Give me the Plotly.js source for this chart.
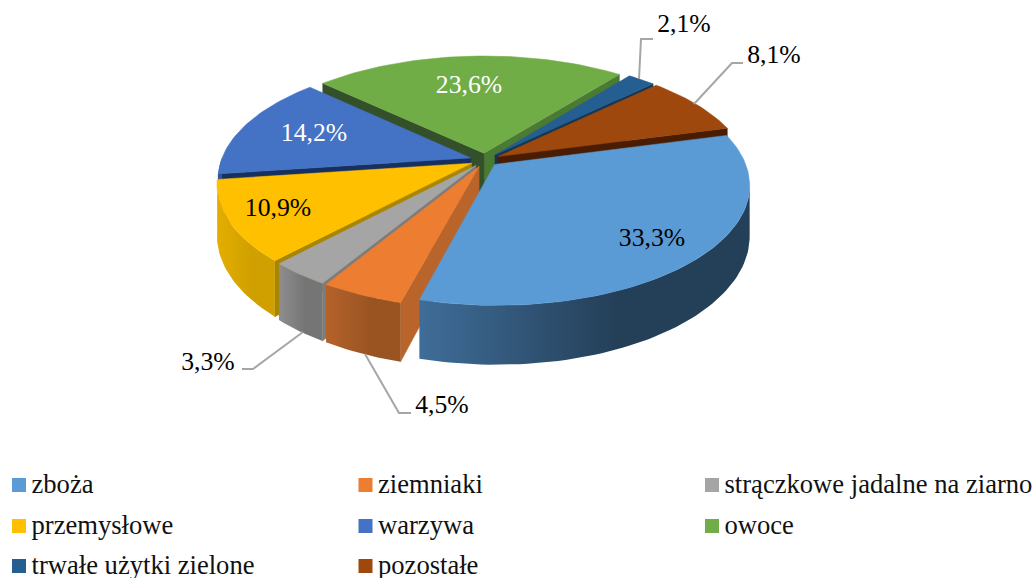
<!DOCTYPE html>
<html><head><meta charset="utf-8">
<script src="https://cdn.plot.ly/plotly-3.0.1.min.js"></script>
<style>html,body{margin:0;padding:0;background:#fff;overflow:hidden}#c{width:1035px;height:578px}</style>
</head><body><div id="c"></div><script>
// ---- data ----
const categories = ['zboża','ziemniaki','strączkowe jadalne na ziarno','przemysłowe','warzywa','owoce','trwałe użytki zielone','pozostałe'];
const values = [33.3,4.5,3.3,10.9,14.2,23.6,2.1,8.1];
// ---- styles ----
const topColors = ['#5b9bd5','#ed7d31','#a5a5a5','#ffc000','#4472c4','#70ad47','#255e91','#9e480e'];
const wallLeft  = ['#3f6d99','#b5622a','#8e8e8e','#e4ae00','#2f5597','#4d7a33','#1a4266','#6f320a'];
const wallRight = ['#243f58','#9a5421','#757575','#d0a000','#2f5597','#4d7a33','#1a4266','#6f320a'];
const startWall = ['#3a6c96','#b8642a','#7c7c7c','#a98600','#17305f','#33502a','#1a4266','#6f320a'];
const endWall   = ['#3a6c96','#b8642a','#7c7c7c','#a98600','#17305f','#4a7a33','#123655','#4a1c02'];
const labelX = [652,442,208,278,314,469,684,774];
const labelY = [240,407,364,210,135,87,26,57];
const labelColors = ['#000','#000','#000','#000','#fff','#fff','#000','#000'];
const leaders = {2:[[303,332],[253,369],[242,369]],1:[[365,354],[399,413],[411,413]],6:[[639,79],[641,39],[653,39]],7:[[694,104],[732,63],[743,63]]};
const legendX = [12,358.5,705,12,358.5,705,12,358.5];
const legendY = [485,485,485,526,526,526,566,566];
const explodeBy = [0.054,0.06,0.06,0.06,0.06,0.06,0.06,0.06];
// ---- projection of the tilted disc ----
const cx=485, cy=160, R=249.5, K=115.6, P=0.168, H=49, START=15;
const rad=d=>d*Math.PI/180;
function proj(u,v,drop){const d=1-P*v;return [cx+u*R/d, cy+(v*K+(drop||0))/d];}
const traces=[];
function poly(pts,name,color,grad){
  const t={type:'scatter',mode:'lines',x:pts.map(p=>p[0]),y:pts.map(p=>p[1]),fill:'toself',
    line:{width:0.5,color:color},fillcolor:color,hoverinfo:'skip',name:name,showlegend:false};
  if(grad){t.fillgradient={type:'horizontal',colorscale:[[0,grad[0]],[0.6,grad[1]],[1,grad[1]]]};t.line={width:0};}
  traces.push(t);
}
const total=values.reduce((a,b)=>a+b,0);
let acc=START; const slices=values.map((v,i)=>{const a=acc,b=acc-v/total*360;acc=b;
  const m=rad((a+b)/2);return {i,a,b,ou:explodeBy[i]*Math.cos(m),ov:-explodeBy[i]*Math.sin(m)};});
function rimPt(s,ang,drop){const t=rad(ang);return proj(s.ou+Math.cos(t),s.ov-Math.sin(t),drop);}
function rim(s,a,b,drop){const n=Math.max(2,Math.ceil(Math.abs(a-b)/1.5)),o=[];
  for(let k=0;k<=n;k++)o.push(rimPt(s,a+(b-a)*k/n,drop));return o;}
function edgeWall(s,ang,color){
  const p=rimPt(s,ang,0),q=rimPt(s,ang,H);
  poly([proj(s.ou,s.ov),proj(s.ou,s.ov,H),q,p,proj(s.ou,s.ov)],categories[s.i]+' wall',color);
}
// the arc's right end starts where the disc is widest, so the side has no notch
function widest(s){let best=-40,bx=-1e9;for(let g=-40;g<=0;g+=0.5){const x=rimPt(s,g,0)[0];if(x>bx){bx=x;best=g;}}return best;}
// back to front
const order=[5,6,7,4,3,2,1,0];
order.forEach(i=>{const s=slices[i];
  const c=Math.sin(rad(s.a+90))<0, d=Math.sin(rad(s.b-90))<0;
  if(d) edgeWall(s,s.b,endWall[i]);
  if(c) edgeWall(s,s.a,startWall[i]);
  let lo=Math.max(s.b,-180), hi=Math.min(s.a,widest(s));
  if(hi>lo){const top=rim(s,hi,lo,0),bot=rim(s,lo,hi,H);
    const pts=top.concat(bot);pts.push(top[0]);
    poly(pts,categories[i]+' side',wallLeft[i],[wallLeft[i],wallRight[i]]);}
  const face=[proj(s.ou,s.ov)].concat(rim(s,s.a,s.b,0));face.push(face[0]);
  poly(face,categories[i],topColors[i]);
});
// leader lines
Object.keys(leaders).forEach(k=>{const p=leaders[k];
  traces.push({type:'scatter',mode:'lines',x:p.map(q=>q[0]),y:p.map(q=>q[1]),line:{color:'#a6a6a6',width:2},hoverinfo:'skip',showlegend:false});});
// value labels
traces.push({type:'scatter',mode:'text',x:labelX,y:labelY,text:values.map(v=>v.toFixed(1).replace('.',',')+'%'),
  textposition:'middle center',textfont:{family:'"Liberation Serif",serif',size:25.7,color:labelColors},hoverinfo:'skip',showlegend:false,cliponaxis:false});
// legend
categories.forEach((c,i)=>{
  traces.push({type:'scatter',mode:'markers',x:[legendX[i]+7],y:[legendY[i]],marker:{symbol:'square',size:14,color:topColors[i]},name:c,hoverinfo:'skip',showlegend:false});
  traces.push({type:'scatter',mode:'text',x:[legendX[i]+19.5],y:[legendY[i]+1],text:[c],textposition:'middle right',
    textfont:{family:'"Liberation Serif",serif',size:26.6,color:'#111'},hoverinfo:'skip',showlegend:false,cliponaxis:false});
});
Plotly.newPlot('c',traces,{width:1035,height:578,margin:{l:0,r:0,t:0,b:0},paper_bgcolor:'#fff',plot_bgcolor:'#fff',showlegend:false,
  xaxis:{range:[0,1035],visible:false,fixedrange:true},yaxis:{range:[578,0],visible:false,fixedrange:true}},{displayModeBar:false,staticPlot:true});
</script></body></html>
